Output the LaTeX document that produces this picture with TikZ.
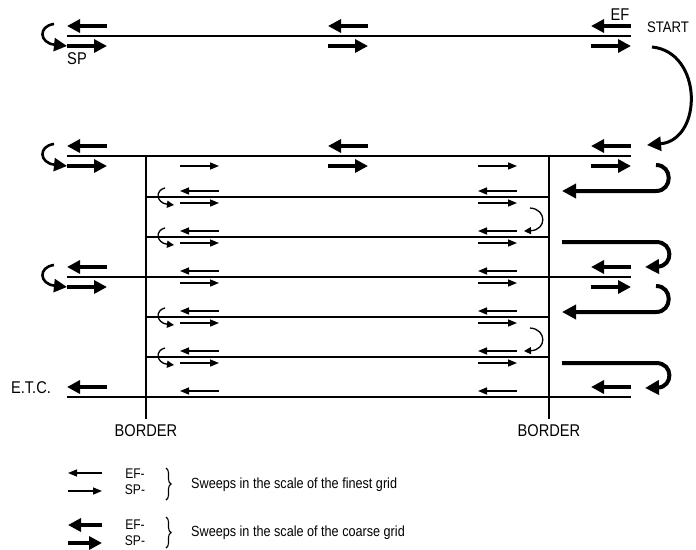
\documentclass[tikz,border=0pt]{standalone}
\usepackage{fontspec}
\setmainfont{Liberation Sans}
\newfontfamily\narrowsf[FakeStretch=0.86]{Liberation Sans}
\usetikzlibrary{arrows.meta,decorations.pathreplacing}

\tikzset{
  coarse/.style={line width=3.6pt,-{Triangle[length=13pt,width=13pt]}},
  fine/.style={line width=1.5pt,-{Triangle[length=9pt,width=7pt]}},
  coarsecurl/.style={line width=2.6pt,-{Triangle[length=13pt,width=13pt]}},
  finecurl/.style={line width=1.3pt,-{Triangle[length=7pt,width=7pt]}},
  hook/.style={line width=4pt,-{Triangle[length=14pt,width=14pt]}},
  gridline/.style={line width=2.3pt},
  thinline/.style={line width=1.8pt},
  borderline/.style={line width=2.7pt},
  bracket/.style={line width=1.1pt,decorate,decoration={brace,amplitude=5pt}},
  lbl/.style={inner sep=0pt,font=\narrowsf\fontsize{17}{20}\selectfont},
  legend/.style={inner sep=0pt,font=\narrowsf\fontsize{14.7}{17}\selectfont},
  tag/.style={inner sep=0pt,font=\narrowsf\fontsize{14}{16}\selectfont}
}

\begin{document}
\begin{tikzpicture}[x=1pt,y=-1pt]
\useasboundingbox (0,0) rectangle (696,549);

% 粗网格线
\foreach \y in {36,156,277,397} \draw[gridline] (67,\y) -- (631,\y);
% 细网格线
\foreach \y in {197,237,317,357} \draw[thinline] (146,\y) -- (549,\y);
% 边界
\draw[borderline] (146,156) -- (146,419);
\draw[borderline] (549,156) -- (549,419);

% 粗网格上的扫描
\foreach \x/\y in {67/36,328/36,591/36,67/156,328/156,591/156,67/277,591/277}{
  \draw[coarse] (\x+40,\y-10) -- (\x,\y-10);
  \draw[coarse] (\x,\y+10) -- (\x+40,\y+10);
}
\draw[coarse] (107,387) -- (67,387);
\draw[coarse] (631,387) -- (591,387);
\foreach \y in {36,156,277}
  \draw[coarsecurl] (54,\y-12) .. controls (38,\y-10) and (39,\y+7) .. (67,\y+10);

% 细网格上的扫描
\foreach \x in {180,478}{
  \foreach \y in {197,237,277,317,357,397} \draw[fine] (\x+39,\y-6) -- (\x,\y-6);
  \foreach \y in {197,237,277,317,357} \draw[fine] (\x,\y+6) -- (\x+39,\y+6);
  \draw[fine] (\x,166) -- (\x+39,166);
}
\foreach \y in {197,237,317,357}
  \draw[finecurl] (165,\y-9) .. controls (155,\y-7) and (156,\y+6) .. (174,\y+8);
\foreach \y in {197,317}
  \draw[finecurl] (530,\y+11) .. controls (547,\y+12) and (547,\y+33) .. (524,\y+34);

% 边界外的回转
\foreach \y in {156,277}{
  \draw[hook] (656,\y+9) .. controls (673,\y+9) and (673,\y+35) .. (656,\y+35) -- (562,\y+35);
  \draw[hook] (562,\y+86) -- (656,\y+86) .. controls (674,\y+86) and (673,\y+110) .. (645,\y+111);
}
\draw[hook,line width=3pt] (652,47) .. controls (703,52) and (703,140) .. (647,145);

% 标注
\node[lbl] (sp) at (77,59) {SP};
\node[lbl] (ef) at (620,15) {EF};
\node[lbl,font=\narrowsf\fontsize{15.3}{18}\selectfont] (start) at (668,27) {START};
\node[lbl] (etc) at (31,388) {E.T.C.};
\node[lbl] (borderl) at (146,431) {BORDER};
\node[lbl] (borderr) at (549,431) {BORDER};

% 图例
\draw[fine] (102,473) -- (68,473);
\draw[fine] (68,491) -- (102,491);
\node[tag] (ef1) at (135,474) {EF-};
\node[tag] (sp1) at (135,490) {SP-};
\draw[bracket] (166,468) -- (166,500);
\node[legend,anchor=west] (finest) at (191,485) {Sweeps in the scale of the finest grid};

\draw[coarse] (102,525) -- (68,525);
\draw[coarse] (68,543) -- (102,543);
\node[tag] (ef2) at (135,525) {EF-};
\node[tag] (sp2) at (135,541) {SP-};
\draw[bracket] (166,517) -- (166,548);
\node[legend,anchor=west] (coarsest) at (191,533) {Sweeps in the scale of the coarse grid};
\end{tikzpicture}
\end{document}
